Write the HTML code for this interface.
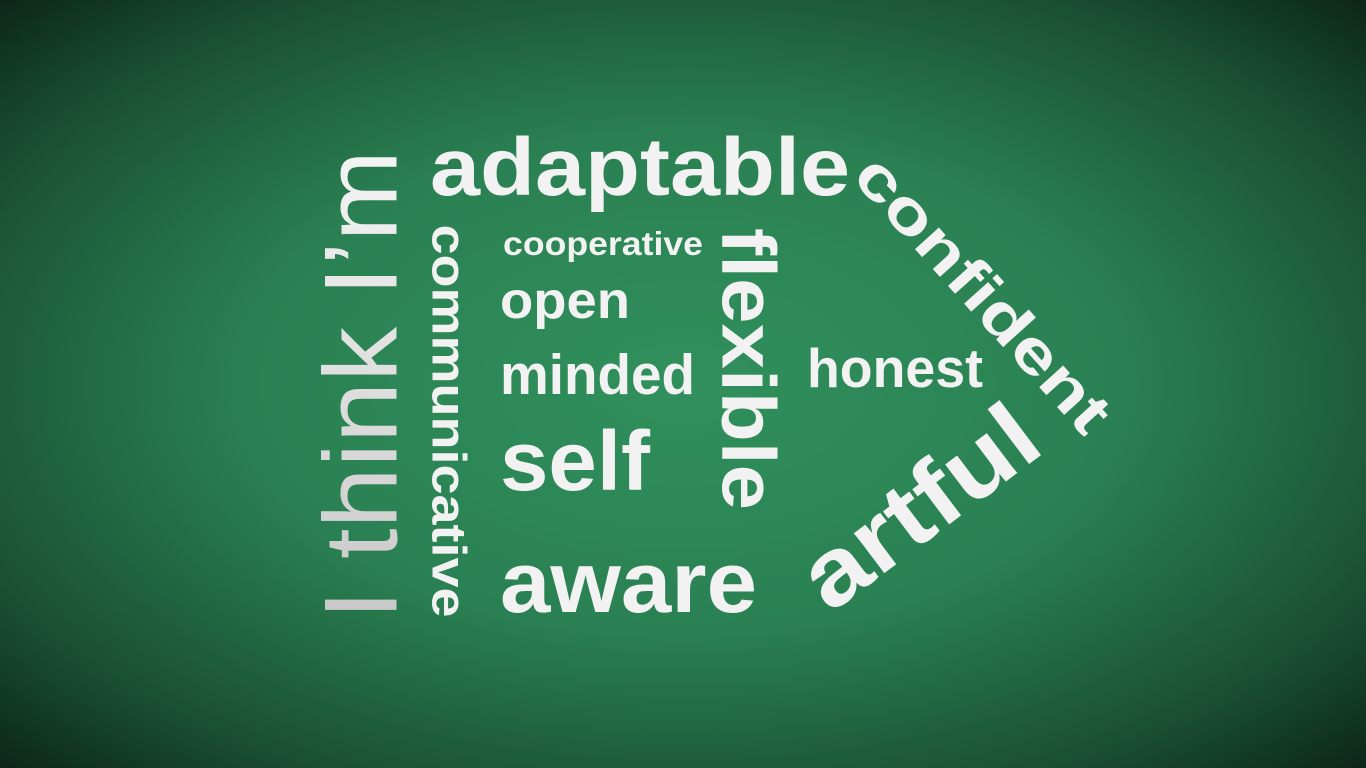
<!DOCTYPE html>
<html><head><meta charset="utf-8"><style>
html,body{margin:0;padding:0;width:1366px;height:768px;overflow:hidden;background:#163d28}
svg{display:block}
text{font-family:"Liberation Sans",sans-serif;font-weight:bold}
</style></head><body>
<svg width="1366" height="768" viewBox="0 0 1366 768">
<defs>
<radialGradient id="bg" cx="50%" cy="50%" r="72%">
<stop offset="0" stop-color="#30905c"/>
<stop offset="0.45" stop-color="#2a8052"/>
<stop offset="0.78" stop-color="#1a5034"/>
<stop offset="1" stop-color="#0b2216"/>
</radialGradient>
<linearGradient id="gl" x1="0" y1="0" x2="1" y2="0">
<stop offset="0" stop-color="#c8c8c8"/><stop offset="1" stop-color="#f4f4f4"/>
</linearGradient>
</defs>
<rect width="1366" height="768" fill="url(#bg)"/>
<g fill="#f2f2f2">
<text transform="translate(359,385) rotate(-90)" text-anchor="middle" dy="0.36em" font-size="104" style="font-weight:normal" fill="url(#gl)" textLength="470" lengthAdjust="spacingAndGlyphs">I think I’m</text>
<text x="430" y="195" font-size="82" textLength="420" lengthAdjust="spacingAndGlyphs">adaptable</text>
<text x="503" y="255" font-size="33" textLength="200" lengthAdjust="spacingAndGlyphs">cooperative</text>
<text x="500" y="318" font-size="52" textLength="130" lengthAdjust="spacingAndGlyphs">open</text>
<text x="500" y="394" font-size="57" textLength="195" lengthAdjust="spacingAndGlyphs">minded</text>
<text x="500" y="490" font-size="84" textLength="150" lengthAdjust="spacingAndGlyphs">self</text>
<text x="500" y="612" font-size="86" textLength="257" lengthAdjust="spacingAndGlyphs">aware</text>
<text transform="translate(450,421) rotate(90)" text-anchor="middle" dy="0.36em" font-size="48" textLength="393" lengthAdjust="spacingAndGlyphs">communicative</text>
<text transform="translate(750,369) rotate(90)" text-anchor="middle" dy="0.36em" font-size="76" textLength="282" lengthAdjust="spacingAndGlyphs">flexible</text>
<text x="807" y="387" font-size="55" textLength="176" lengthAdjust="spacingAndGlyphs">honest</text>
<text transform="translate(984,293) rotate(48)" text-anchor="middle" dy="0.36em" font-size="61" textLength="350" lengthAdjust="spacingAndGlyphs">confident</text>
<text transform="translate(918,505) rotate(-37)" text-anchor="middle" dy="0.36em" font-size="95" textLength="272" lengthAdjust="spacingAndGlyphs">artful</text>
</g>
</svg>
</body></html>
